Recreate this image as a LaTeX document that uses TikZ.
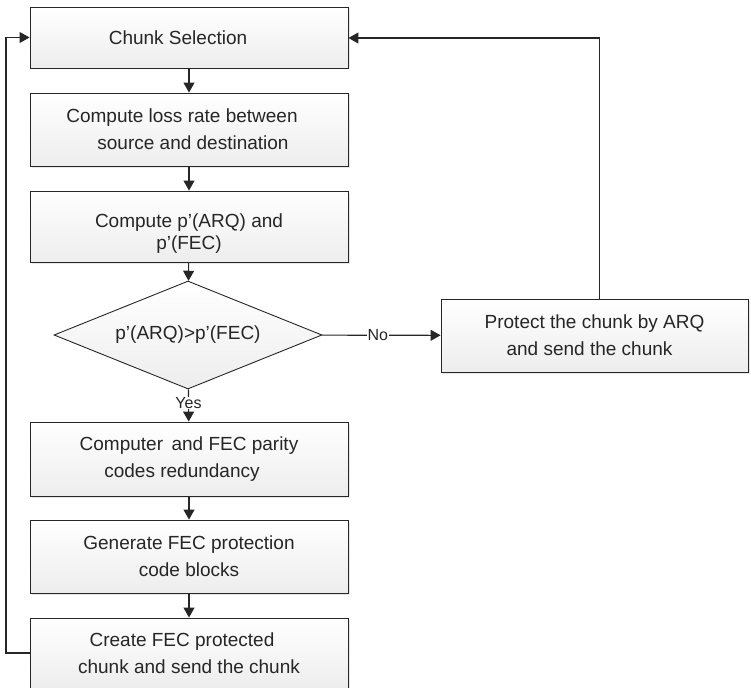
\documentclass[tikz,border=0pt]{standalone}
\usepackage{fontspec}
\setmainfont{Liberation Sans}
\usetikzlibrary{arrows.meta,shapes.geometric,shadows}
\tikzset{
  box/.style={draw=black!85, line width=0.9pt, top color=white, bottom color=black!7,
    drop shadow={opacity=0.18, shadow xshift=1.5pt, shadow yshift=-1.5pt},
    minimum width=318pt, align=center, inner sep=0pt,
    font=\fontsize{19}{27}\selectfont, text=black!85},
  dec/.style={draw=black!85, line width=0.9pt, top color=white, bottom color=black!7,
    shape=diamond, aspect=2.48, minimum width=268pt, minimum height=108pt, inner sep=0pt,
    font=\fontsize{19}{27}\selectfont, text=black!85},
  conn/.style={draw=black!85, line width=1.1pt, -{Triangle[length=10pt,width=11pt]}},
  lbl/.style={fill=white, inner sep=1pt, font=\fontsize{16}{19}\selectfont, text=black!85},
  txt/.style={align=center, inner sep=0pt, font=\fontsize{19}{22}\selectfont, text=black!85}
}
\begin{document}
\begin{tikzpicture}[x=1pt,y=-1pt]
\clip (0,0) rectangle (751,687);
\node[box, minimum height=61pt] (sel) at (189,37.5) {Chunk Selection\hspace*{22pt}};
\node[box, minimum height=73pt] (loss) at (189,129.5) {Compute loss rate between\hspace*{14pt}\\ \hspace*{8pt}source and destination};
\node[box, minimum height=71pt] (pq) at (189,226.5) {};
\node[txt] (pqt) at (189,234) {Compute p’(ARQ) and\\ p’(FEC)};
\node[dec] (cmp) at (188,335) {p’(ARQ)>p’(FEC)};
\node[box, minimum width=307pt, minimum height=73pt] (arq) at (594.5,335.5) {Protect the chunk by ARQ\\ and send the chunk\hspace*{10pt}};
\node[box, minimum height=74pt] (red) at (189,459) {Computer\, and FEC parity\\ codes redundancy\hspace*{14pt}};
\node[box, minimum height=73pt] (gen) at (189,556.5) {Generate FEC protection\\ code blocks};
\node[box, minimum height=70pt] (crt) at (189,653) {Create FEC protected\hspace*{14pt}\\ chunk and send the chunk};
\coordinate (lc) at (6,653);
\coordinate (rc) at (599.5,38);
\draw[conn] (sel) -- (loss);
\draw[conn] (loss) -- (pq);
\draw[conn] (pq) -- (cmp);
\draw[conn] (cmp) -- node[lbl, pos=0.47]{No} (arq);
\draw[conn] (cmp) -- node[lbl, pos=0.42, inner sep=0.5pt]{Yes} (red);
\draw[conn] (red) -- (gen);
\draw[conn] (gen) -- (crt);
\draw[conn] (arq.north -| rc) -- (rc) -- (sel.east |- rc);
\draw[conn] (crt.west) -- (lc) -- (lc |- sel.west) -- (sel.west);
\end{tikzpicture}
\end{document}
